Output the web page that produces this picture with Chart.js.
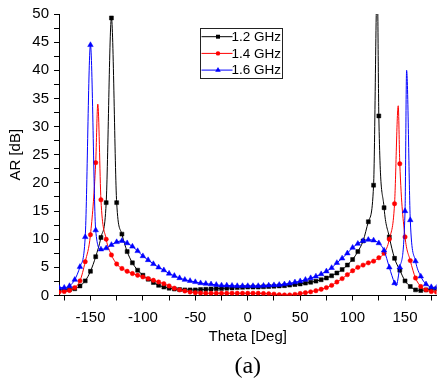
<!DOCTYPE html>
<html>
<head>
<meta charset="utf-8">
<script src="https://cdn.jsdelivr.net/npm/chart.js@4.4.1/dist/chart.umd.min.js"></script>
<style>
    html, body { margin: 0; padding: 0; background: #fff; overflow: hidden; }
    #wrap { position: absolute; left: 0; top: 0; width: 441px; height: 382px; }
</style>
</head>
<body>
<div id="wrap"><canvas id="arChart"></canvas></div>
<script>
// marked samples every 5 deg
const theta = [
    -180, -175, -170, -165, -160, -155, -150, -145, -140, -135, -130, -125, -120,
    -115, -110, -105, -100, -95, -90, -85, -80, -75, -70, -65, -60, -55, -50,
    -45, -40, -35, -30, -25, -20, -15, -10, -5, 0, 5, 10, 15, 20, 25, 30,
    35, 40, 45, 50, 55, 60, 65, 70, 75, 80, 85, 90, 95, 100, 105, 110,
    115, 120, 125, 130, 135, 140, 145, 150, 155, 160, 165, 170, 175, 180
];
const ar12 = [
    1.0, 1.0, 1.05, 1.2, 1.7, 2.6, 4.3, 6.9, 10.3, 16.5, 49.3, 16.5, 10.9,
    7.8, 5.8, 4.5, 3.6, 2.9, 2.3, 1.8, 1.5, 1.3, 1.15, 1.05, 1.0, 1.0, 1.0,
    1.05, 1.1, 1.15, 1.2, 1.25, 1.3, 1.35, 1.4, 1.45, 1.5, 1.5, 1.5, 1.55, 1.6, 1.65, 1.7,
    1.75, 1.85, 1.95, 2.05, 2.2, 2.35, 2.55, 2.8, 3.1, 3.5, 4.0, 4.6, 5.4, 6.4, 7.8, 9.7,
    13.1, 19.6, 31.9, 15.6, 10.4, 6.6, 4.5, 2.6, 1.6, 1.0, 0.9, 1.0, 1.1, 1.2
];
const ar14 = [
    0.6, 0.7, 0.9, 1.4, 2.6, 6.0, 10.8, 23.6, 17.0, 10.0, 7.2, 5.6, 4.8,
    4.3, 3.9, 3.6, 3.3, 3.0, 2.7, 2.4, 2.1, 1.7, 1.3, 1.0, 0.8, 0.6, 0.5,
    0.45, 0.4, 0.4, 0.4, 0.4, 0.4, 0.4, 0.4, 0.4, 0.4, 0.4, 0.4, 0.35, 0.3, 0.25, 0.15,
    0.1, 0.1, 0.2, 0.35, 0.5, 0.65, 0.85, 1.1, 1.4, 1.8, 2.4, 3.0, 3.7, 4.4, 5.0, 5.4,
    5.8, 6.1, 6.7, 7.5, 10.0, 16.3, 23.4, 10.4, 6.2, 3.1, 1.6, 1.0, 0.7, 0.6
];
const ar16 = [
    1.4, 1.4, 1.7, 2.8, 5.1, 10.4, 44.5, 11.6, 8.2, 8.4, 9.0, 9.5, 9.7,
    9.3, 8.7, 7.9, 7.0, 6.3, 5.6, 5.0, 4.5, 3.9, 3.5, 3.1, 2.8, 2.6, 2.4,
    2.2, 2.1, 2.0, 1.9, 1.8, 1.8, 1.75, 1.7, 1.7, 1.7, 1.7, 1.7, 1.75, 1.8, 1.85, 1.9,
    2.0, 2.15, 2.35, 2.55, 2.8, 3.1, 3.4, 3.8, 4.3, 4.9, 5.8, 6.6, 7.5, 8.5, 9.2, 9.7,
    9.9, 9.8, 9.3, 8.0, 5.0, 2.2, 5.0, 15.0, 13.4, 6.1, 3.4, 2.0, 1.5, 1.4
];

// curve points between the marks (no marker drawn)
const peakTheta12 = [123.5];
const peakAr12 = [56];
const peakTheta14 = [-143, 143.5];
const peakAr14 = [34, 33.7];
const peakTheta16 = [141.5, 151.5];
const peakAr16 = [1.7, 40];

const seriesNames = ["1.2 GHz", "1.4 GHz", "1.6 GHz"];
const xTicks = [-175, -150, -125, -100, -75, -50, -25, 0, 25, 50, 75, 100, 125, 150, 175];
const xLabels = [-150, -100, -50, 0, 50, 100, 150];
const yTicks = [0, 2.5, 5, 7.5, 10, 12.5, 15, 17.5, 20, 22.5, 25, 27.5, 30, 32.5, 35, 37.5, 40, 42.5, 45, 47.5, 50];
const yLabels = [0, 5, 10, 15, 20, 25, 30, 35, 40, 45, 50];

function buildPoints(marks, extraX, extraY) {
    const pts = theta.map((t, i) => ({ x: t, y: marks[i] }));
    extraX.forEach((t, i) => pts.push({ x: t, y: extraY[i] }));
    return pts.sort((a, b) => a.x - b.x);
}

const sans = "'Liberation Sans', Arial, sans-serif";

function markerSize(r) {
    return ctx => (ctx.raw && ctx.raw.x % 5 === 0) ? r : 0;
}

function makeSet(label, pts, color, style, r, order) {
    return {
        label,
        data: pts,
        borderColor: color,
        backgroundColor: color,
        pointBackgroundColor: color,
        pointBorderColor: color,
        pointBorderWidth: 0.5,
        pointStyle: style,
        pointRadius: markerSize(r),
        legendRadius: r,
        borderWidth: 1,
        cubicInterpolationMode: "monotone",
        tension: 0.4,
        order
    };
}

function drawMarker(ctx, style, r, x, y, color) {
    ctx.fillStyle = color;
    ctx.beginPath();
    if (style === "rect") {
        const s = r * Math.SQRT1_2;
        ctx.rect(x - s, y - s, 2 * s, 2 * s);
    } else if (style === "triangle") {
        ctx.moveTo(x, y - r);
        ctx.lineTo(x + r * 0.87, y + r * 0.5);
        ctx.lineTo(x - r * 0.87, y + r * 0.5);
        ctx.closePath();
    } else {
        ctx.arc(x, y, r, 0, Math.PI * 2);
    }
    ctx.fill();
}

const legendBox = {
    id: "legendBox",
    afterDatasetsDraw(chart) {
        const ctx = chart.ctx;
        const left = 200.5, top = 28.5, w = 82, h = 50;
        ctx.save();
        ctx.fillStyle = "#fff";
        ctx.fillRect(left, top, w, h);
        ctx.strokeStyle = "#222";
        ctx.lineWidth = 1;
        ctx.strokeRect(left, top, w, h);
        chart.data.datasets.forEach((ds, i) => {
            const y = top + 8.2 + i * 16.7;
            ctx.strokeStyle = ds.borderColor;
            ctx.beginPath();
            ctx.moveTo(left + 1, y);
            ctx.lineTo(left + 32, y);
            ctx.stroke();
            drawMarker(ctx, ds.pointStyle, ds.legendRadius, left + 17.5, y, ds.borderColor);
            ctx.fillStyle = "#000";
            ctx.font = "13.5px " + sans;
            ctx.textBaseline = "middle";
            ctx.fillText(ds.label, left + 31, y + 0.5);
        });
        ctx.restore();
    }
};

new Chart(document.getElementById("arChart"), {
    type: "line",
    data: {
        datasets: [
            makeSet(seriesNames[0], buildPoints(ar12, peakTheta12, peakAr12), "#000000", "rect", 2.8, 3),
            makeSet(seriesNames[1], buildPoints(ar14, peakTheta14, peakAr14), "#ff0000", "circle", 2.2, 2),
            makeSet(seriesNames[2], buildPoints(ar16, peakTheta16, peakAr16), "#0000ff", "triangle", 3.2, 1)
        ]
    },
    options: {
        responsive: true,
        maintainAspectRatio: false,
        animation: false,
        layout: { padding: { top: 14, right: 1, left: 0, bottom: 0 } },
        plugins: {
            legend: { display: false },
            tooltip: { enabled: false },
            title: {
                display: true,
                text: "(a)",
                position: "bottom",
                fullSize: false,
                color: "#000",
                font: { family: "'Liberation Serif', 'Times New Roman', serif", size: 24, weight: "normal" },
                padding: { top: 3, bottom: 1 }
            }
        },
        scales: {
            x: {
                type: "linear",
                min: -180,
                max: 180,
                afterBuildTicks: s => { s.ticks = xTicks.map(v => ({ value: v })); },
                afterFit: s => { s.height = 53.7; },
                ticks: {
                    autoSkip: false,
                    maxRotation: 0,
                    padding: 8,
                    color: "#000",
                    font: { family: sans, size: 15 },
                    callback: v => xLabels.includes(v) ? String(v) : ""
                },
                grid: { drawOnChartArea: false, tickLength: 5, color: "#000" },
                border: { display: true, color: "#000", width: 1 },
                title: {
                    display: true,
                    text: "Theta [Deg]",
                    color: "#000",
                    font: { family: sans, size: 15 },
                    padding: { top: 0, bottom: 3 }
                }
            },
            y: {
                min: 0,
                max: 50,
                afterBuildTicks: s => { s.ticks = yTicks.map(v => ({ value: v })); },
                afterFit: s => { s.width = 59; },
                ticks: {
                    autoSkip: false,
                    padding: 5,
                    color: "#000",
                    font: { family: sans, size: 15 },
                    callback: v => yLabels.includes(v) ? String(v) : ""
                },
                grid: { drawOnChartArea: false, tickLength: 5, color: "#000" },
                border: { display: true, color: "#000", width: 1 },
                title: {
                    display: true,
                    text: "AR [dB]",
                    color: "#000",
                    font: { family: sans, size: 15 },
                    padding: { top: 7, bottom: 0 }
                }
            }
        }
    },
    plugins: [legendBox]
});
</script>
</body>
</html>
